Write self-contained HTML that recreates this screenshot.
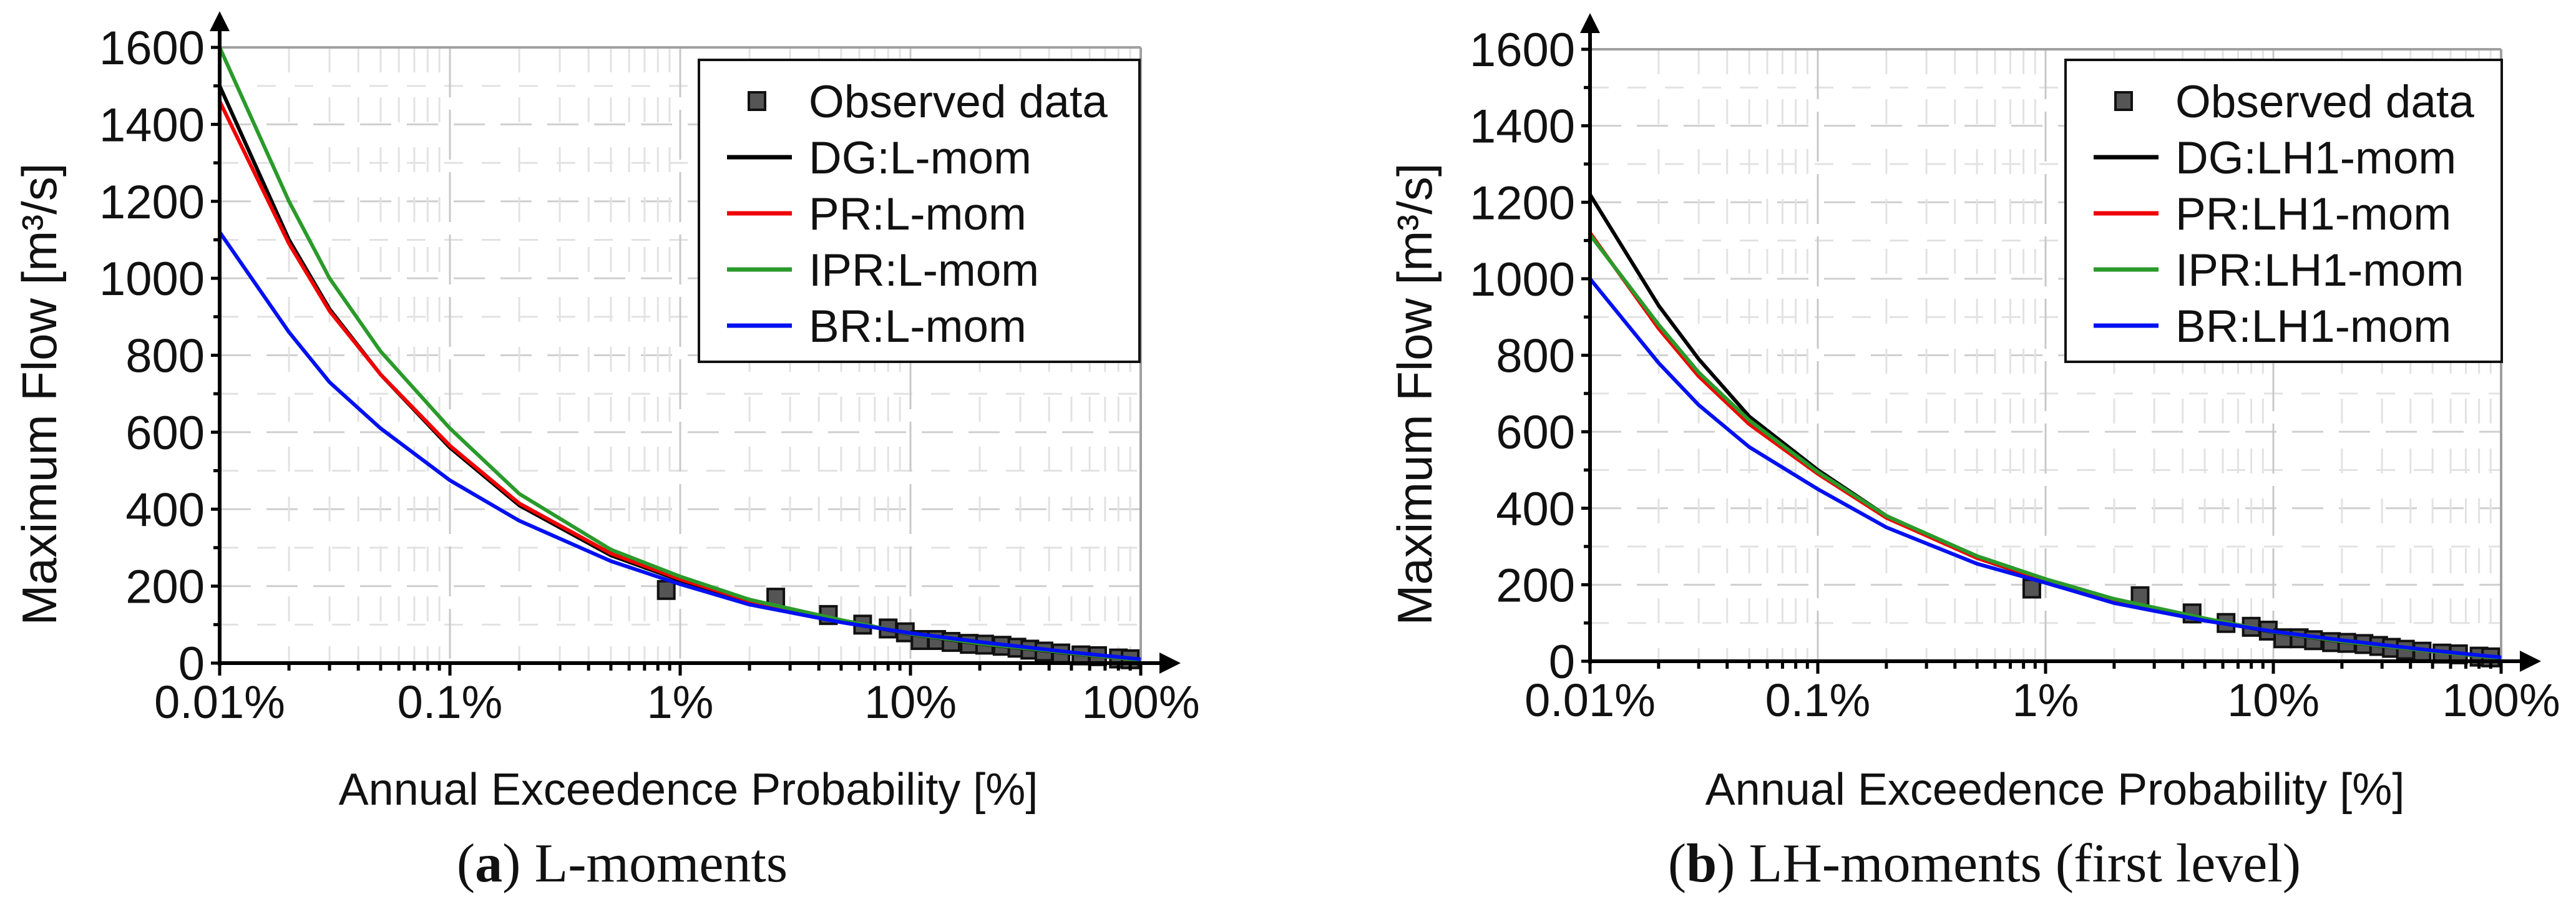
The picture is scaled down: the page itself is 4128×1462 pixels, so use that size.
<!DOCTYPE html>
<html><head><meta charset="utf-8"><style>
html,body{margin:0;padding:0;background:#fff;}
svg{display:block;}
text{font-family:"Liberation Sans",sans-serif;fill:#111;}
.cap{font-family:"Liberation Serif",serif;}
</style></head><body>
<svg id="fig" width="4128" height="1462" viewBox="0 0 4128 1462" xmlns="http://www.w3.org/2000/svg"></svg>
<script>
// ---- shared data ----
const yTicks = [0,200,400,600,800,1000,1200,1400,1600];
const xTicks = [0.01,0.1,1,10,100];
const xTickLabels = ["0.01%","0.1%","1%","10%","100%"];
const curveP = [0.01,0.02,0.03,0.05,0.1,0.2,0.5,1,2,5,10,20,50,100];
// panel a
const aDG  = [1500,1100,920,750,560,410,280,215,160,110,75,50,25,8];
const aPR  = [1460,1090,915,750,565,415,285,218,162,111,76,51,26,8];
const aIPR = [1600,1200,1000,810,610,440,295,225,165,112,76,51,26,8];
const aBR  = [1120,860,730,610,475,370,265,205,152,106,78,55,28,10];
// panel b
const bDG  = [1220,930,790,640,500,380,270,210,160,110,76,51,26,8];
const bPR  = [1120,870,745,620,490,375,270,212,161,111,77,52,26,8];
const bIPR = [1115,880,755,630,495,380,275,215,163,112,77,52,26,8];
const bBR  = [1000,780,670,560,450,350,255,205,152,106,78,55,28,10];
// observed data (shared)
const obsP = [0.87,2.6,4.4,6.2,8,9.5,11,13,15,18,21,25,29,33,38,45,55,65,80,90];
const obsQ = [190,170,125,100,90,80,60,60,55,50,48,45,40,35,30,25,20,18,12,10];

const NS="http://www.w3.org/2000/svg";
const svg=document.getElementById('fig');
function mk(tag,attrs,parent){const e=document.createElementNS(NS,tag);for(const k in attrs)e.setAttribute(k,attrs[k]);(parent||svg).appendChild(e);return e;}

function panel(cfg){
  const g=mk('g',{});
  
  
  const X=p=>cfg.x0+(Math.log10(p)+2)*cfg.dec;
  const Y=v=>cfg.y0-v*(cfg.y0-cfg.y1600)/1600;
  const xEnd=X(100);
  const grid=mk('g',{stroke:'#d4d4d4','stroke-width':3,fill:'none'},g);
  
  
  for(let v=100;v<=1500;v+=100){
    mk('line',{x1:cfg.x0,x2:xEnd,y1:Y(v),y2:Y(v),'stroke-dasharray':v%200===0?'50 25':'30 30',stroke:v%200===0?'#cfcfcf':'#e2e2e2'},grid);
  }
  for(let d=-2;d<2;d++){
    for(let m=1;m<10;m++){
      const p=m*Math.pow(10,d);
      if(m===1&&d===-2)continue;
      mk('line',{x1:X(p),x2:X(p),y1:Y(1600),y2:Y(0),'stroke-dasharray':m===1?'80 20':'40 40',stroke:m===1?'#c8c8c8':'#e2e2e2'},grid);
    }
  }
  mk('line',{x1:cfg.x0,x2:xEnd,y1:Y(1600),y2:Y(1600),stroke:'#a0a0a0','stroke-width':4},g);
  mk('line',{x1:xEnd,x2:xEnd,y1:Y(1600),y2:Y(0),stroke:'#a0a0a0','stroke-width':4},g);
  obsP.forEach((p,i)=>{
    const r=mk('rect',{x:X(p)-13,y:Y(obsQ[i])-14,width:26,height:28,fill:'#555',stroke:'#111','stroke-width':4},g);
    
    
  });
  cfg.series.forEach(s=>{
    const d=curveP.map((p,i)=>(i?'L':'M')+X(p).toFixed(1)+' '+Y(s.vals[i]).toFixed(1)).join(' ');
    const pth=mk('path',{d:d,fill:'none',stroke:s.color,'stroke-width':6,'stroke-linejoin':'round'},g);
    
    
  });
  mk('line',{x1:cfg.x0,x2:cfg.x0,y1:Y(0)+4,y2:cfg.y1600-30,stroke:'#000','stroke-width':6},g);
  mk('path',{d:`M${cfg.x0-16} ${cfg.y1600-26} L${cfg.x0} ${cfg.y1600-58} L${cfg.x0+16} ${cfg.y1600-26}Z`,fill:'#000'},g);
  mk('line',{x1:cfg.x0,x2:xEnd+40,y1:Y(0),y2:Y(0),stroke:'#000','stroke-width':6},g);
  mk('path',{d:`M${xEnd+30} ${Y(0)-17} L${xEnd+64} ${Y(0)} L${xEnd+30} ${Y(0)+17}Z`,fill:'#000'},g);
  for(let v=0;v<=1600;v+=100){
    mk('line',{x1:cfg.x0-(v%200===0?14:10),x2:cfg.x0,y1:Y(v),y2:Y(v),stroke:'#000','stroke-width':5},g);
  }
  yTicks.forEach(v=>{
    const t=mk('text',{x:cfg.x0-24,y:Y(v)+27,'text-anchor':'end','font-size':76},g);
    t.textContent=v;
    
    
  });
  for(let d=-2;d<2;d++)for(let m=1;m<10;m++){
    const p=m*Math.pow(10,d);
    mk('line',{x1:X(p),x2:X(p),y1:Y(0),y2:Y(0)+(m===1?20:12),stroke:'#000','stroke-width':5},g);
  }
  mk('line',{x1:xEnd,x2:xEnd,y1:Y(0),y2:Y(0)+20,stroke:'#000','stroke-width':5},g);
  xTicks.forEach((p,i)=>{
    const t=mk('text',{x:X(p),y:Y(0)+88,'text-anchor':'middle','font-size':74},g);
    t.textContent=xTickLabels[i];
    
    
  });
  const yt=mk('text',{x:0,y:0,'text-anchor':'middle','font-size':78,transform:`translate(${cfg.yTitleX},${cfg.yTitleY}) rotate(-90)`},g);
  yt.textContent='Maximum Flow [m³/s]';
  
  
  const xt=mk('text',{x:cfg.xTitleX,y:1290,'text-anchor':'middle','font-size':72},g);
  xt.textContent='Annual Exceedence Probability [%]';
  
  
  const lg=mk('g',{},g);
  
  
  mk('rect',{x:cfg.lx,y:96,width:cfg.lw,height:484,fill:'#fff',stroke:'#111','stroke-width':4},lg);
  const ent=[{label:'Observed data',marker:true}].concat(cfg.series.map(s=>({label:s.label,color:s.color})));
  ent.forEach((e,i)=>{
    const cy=162+i*90;
    if(e.marker){mk('rect',{x:cfg.lx+80,y:cy-14,width:26,height:28,fill:'#555',stroke:'#111','stroke-width':4},lg);}
    else mk('line',{x1:cfg.lx+45,x2:cfg.lx+149,y1:cy,y2:cy,stroke:e.color,'stroke-width':7},lg);
    const t=mk('text',{x:cfg.lx+176,y:cy+26,'font-size':73},lg);
    t.textContent=e.label;
    
    
  });
  const c=mk('text',{x:cfg.capX,y:1413,'text-anchor':'middle','font-size':88,'class':'cap'},g);
  c.innerHTML='(<tspan font-weight="bold">'+cfg.capL+'</tspan>) '+cfg.capT;
  
  
}

panel({name:'panel-a-l-moments',x0:352,dec:369,y0:1063,y1600:76,yTitleX:90,yTitleY:632,xTitleX:1103,lx:1120,lw:706,capX:997,capL:'a',capT:'L-moments',
  series:[{id:'dg',label:'DG:L-mom',color:'#000',vals:aDG},{id:'pr',label:'PR:L-mom',color:'#f00000',vals:aPR},{id:'ipr',label:'IPR:L-mom',color:'#2a9a2a',vals:aIPR},{id:'br',label:'BR:L-mom',color:'#0010f0',vals:aBR}]});
panel({name:'panel-b-lh-moments',x0:2548,dec:365,y0:1060,y1600:79,yTitleX:2294,yTitleY:632,xTitleX:3293,lx:3310,lw:699,capX:3180,capL:'b',capT:'LH-moments (first level)',
  series:[{id:'dg',label:'DG:LH1-mom',color:'#000',vals:bDG},{id:'pr',label:'PR:LH1-mom',color:'#f00000',vals:bPR},{id:'ipr',label:'IPR:LH1-mom',color:'#2a9a2a',vals:bIPR},{id:'br',label:'BR:LH1-mom',color:'#0010f0',vals:bBR}]});
</script>
</body></html>
